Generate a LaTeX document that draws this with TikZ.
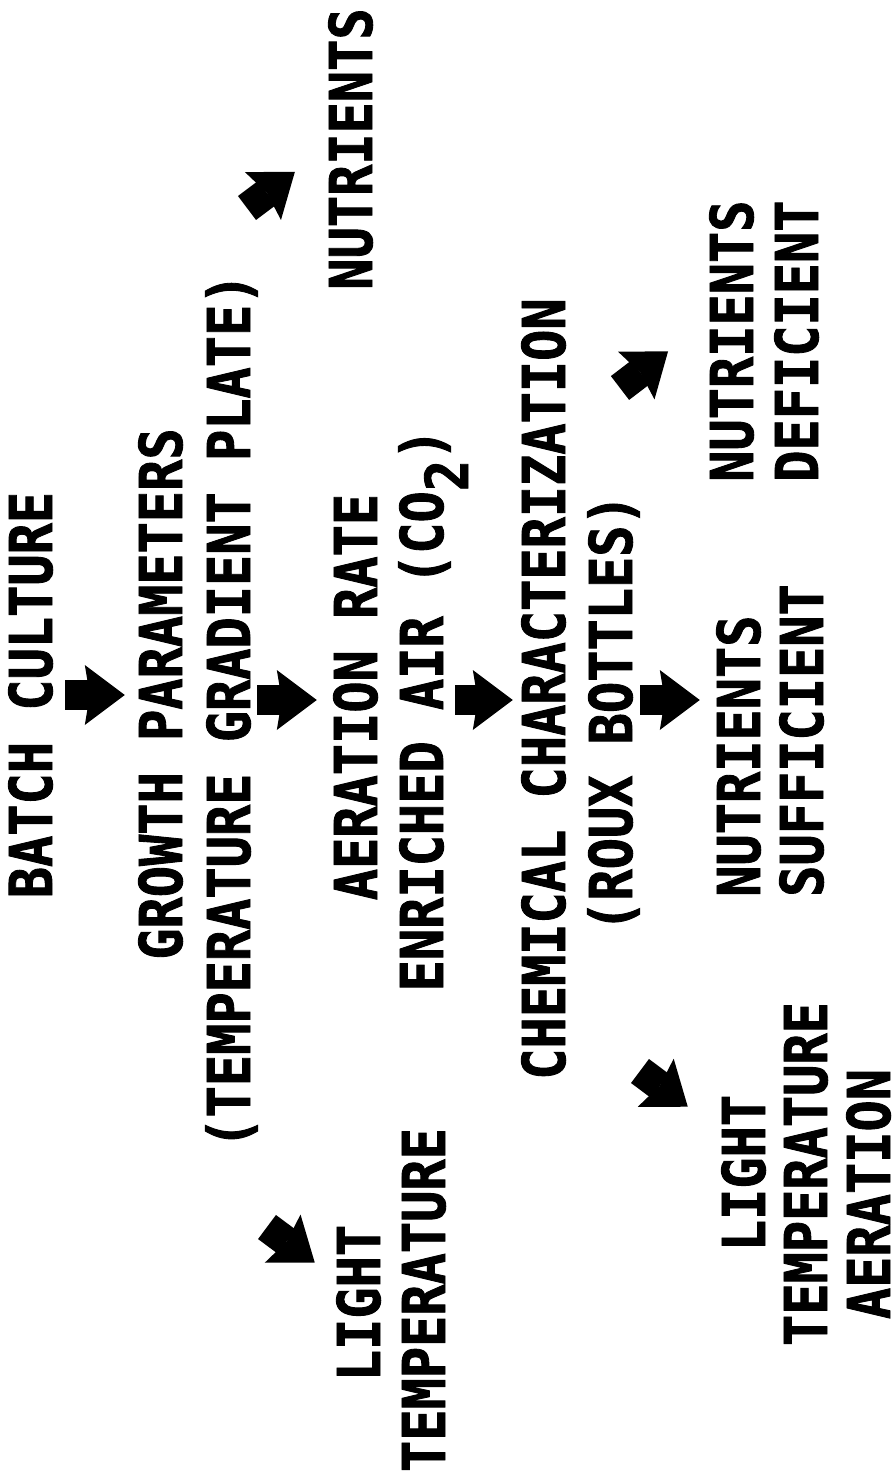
\documentclass[tikz,border=0pt]{standalone}
\usepackage{fontspec}
\usepackage{tikz}
\usetikzlibrary{arrows.meta, positioning, calc}
\newfontfamily\lblfont{DejaVu Sans Mono}[FakeStretch=0.88, BoldFeatures={FakeBold=1.5}]

\begin{document}
\begin{tikzpicture}[x=1pt, y=-1pt,
    lbl/.style={rotate=90, anchor=base, inner sep=0pt, text height=43pt, text depth=0pt,
        font=\lblfont\bfseries\fontsize{59pt}{65pt}\selectfont},
    blkarrow/.style={-{Stealth[length=40pt, width=60pt, inset=5pt, line width=0pt]}, line width=30pt}]
    \fill[white] (0,0) rectangle (895,1481);
    \useasboundingbox (0,0) rectangle (895,1481);

    \node[lbl] (batch) at (52,695) {BATCH CULTURE};
    \node[lbl] (growth) at (182,694) {GROWTH PARAMETERS};
    \node[lbl] (growthb) at (250,711) {(TEMPERATURE GRADIENT PLATE)};
    \node[lbl] (nutr) at (372,149) {NUTRIENTS};
    \node[lbl] (aer) at (377,697) {AERATION RATE};
    \node[lbl] (aerb) at (443,710) {ENRICHED AIR (CO\raisebox{-25pt}{2})};
    \node[lbl] (chem) at (565,689) {CHEMICAL CHARACTERIZATION};
    \node[lbl] (chemb) at (632,713) {(ROUX BOTTLES)};
    \node[lbl, anchor=base west] (suff) at (760,897) {NUTRIENTS};
    \node[lbl, anchor=base west] (suffb) at (823,897) {SUFFICIENT};
    \node[lbl, anchor=base west] (def) at (753,482) {NUTRIENTS};
    \node[lbl, anchor=base west] (defb) at (818,482) {DEFICIENT};
    \node[lbl] (light) at (380,1303) {LIGHT};
    \node[lbl] (lightb) at (445,1300) {TEMPERATURE};
    \node[lbl] (lightr) at (765,1173) {LIGHT};
    \node[lbl] (lightrb) at (827,1174) {TEMPERATURE};
    \node[lbl] (lightrc) at (890,1194) {AERATION};

    \coordinate (axis) at (0,700);
    \draw[blkarrow, shorten <=13pt, shorten >=14pt] (batch.south) -- (batch.south -| growth.north);
    \draw[blkarrow, shorten <=7pt, shorten >=17pt] (growthb.south |- axis) -- (aer.north |- axis);
    \draw[blkarrow, shorten <=12pt, shorten >=9pt] (aerb.south |- axis) -- (chem.north |- axis);
    \draw[blkarrow, shorten <=8pt, shorten >=17pt] (chemb.south |- axis) -- (suff.north |- axis);

    \coordinate (d1) at (247,208);
    \coordinate (d2) at (267,1227);
    \coordinate (d3) at (620,388);
    \coordinate (d4) at (640,1071);
    \draw[blkarrow, shorten >=42.5pt] (d1) -- (nutr.83);
    \draw[blkarrow, shorten >=27.5pt] (d2) -- (light.42.5);
    \draw[blkarrow, shorten >=52.5pt] (d3) -- (def.45.5);
    \draw[blkarrow, shorten >=42.5pt] (d4) -- (lightr.28);
\end{tikzpicture}
\end{document}
